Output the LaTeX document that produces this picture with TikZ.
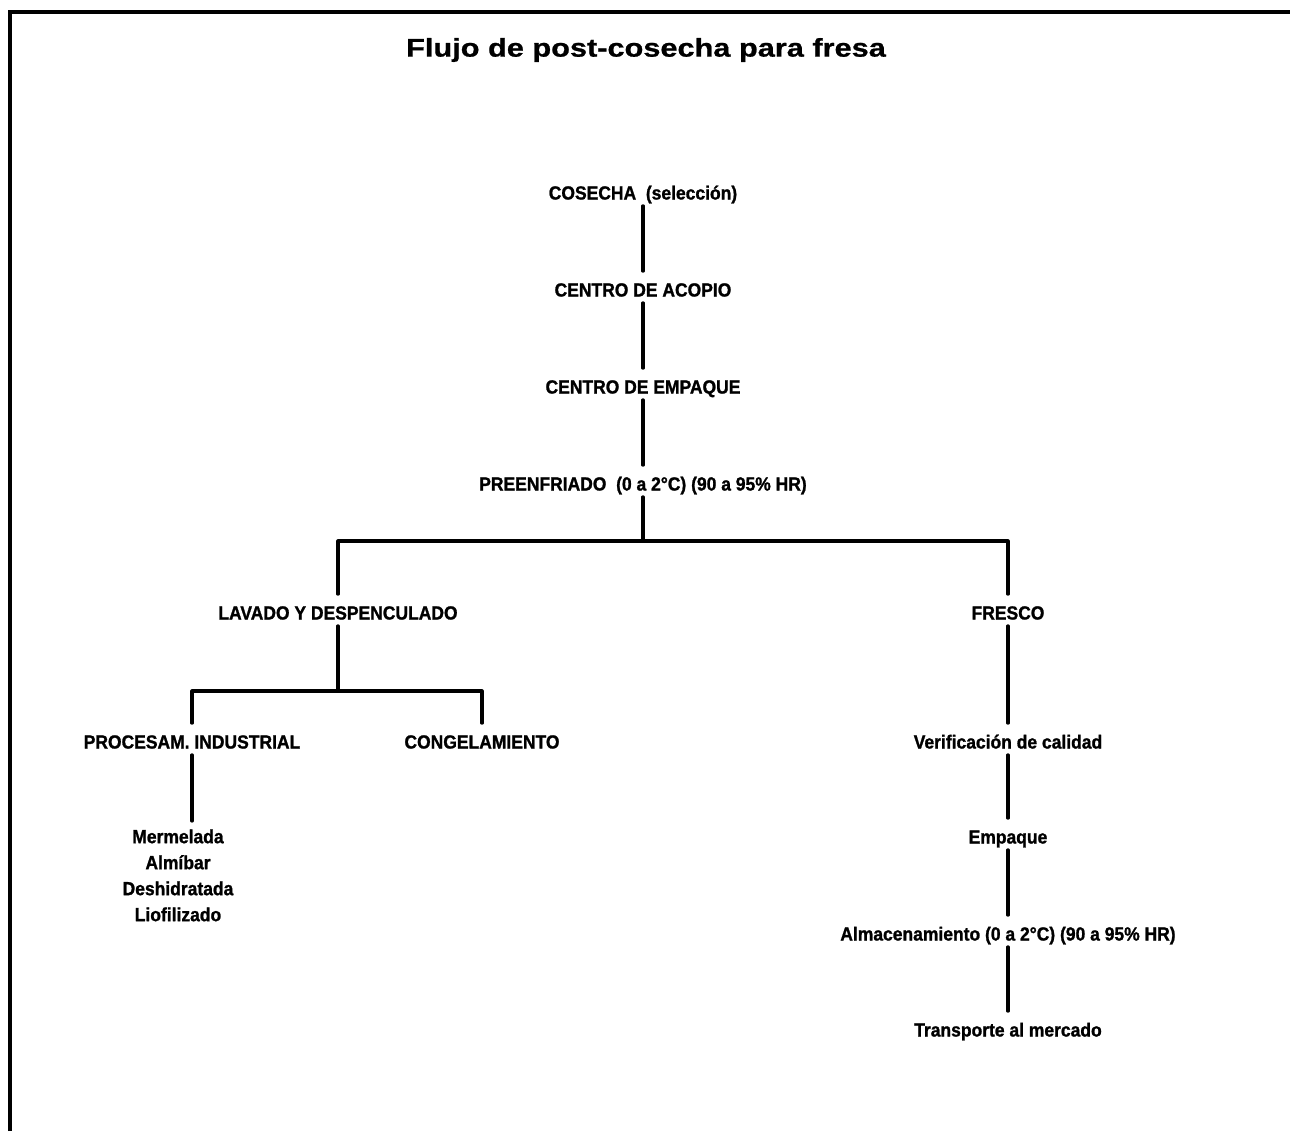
\documentclass[tikz,border=0pt]{standalone}
\usepackage{fontspec}
\setmainfont{Liberation Sans}
\newfontfamily\flowfont[FakeStretch=0.92, BoldFeatures={FakeBold=1.2}]{Liberation Sans}
\newfontfamily\titlefont[FakeStretch=1.2, BoldFeatures={FakeBold=0.8}]{Liberation Sans}
\usetikzlibrary{calc,positioning}

\begin{document}
\begin{tikzpicture}[
      x=0.5pt, y=-0.5pt,
      every node/.style={font=\flowfont\bfseries\fontsize{9.5}{13}\selectfont, text=black},
      stage/.style={inner sep=0pt, text height=7.5pt, text depth=0pt},
      heading/.style={font=\titlefont\bfseries\fontsize{12.8}{15}\selectfont},
      wire/.style={line width=1.6pt, line join=round, line cap=round},
      link/.style={wire, shorten <=3pt, shorten >=5pt},
      frame/.style={line width=1.6pt}
    ]
      \useasboundingbox (0,0) rectangle (1290,1131);
      \draw[frame] (10,1131) -- (10,12) -- (1290,12);

      \node[heading] (title) at (646,50) {Flujo de post-cosecha para fresa};

      % tronco comun
      \node[stage] (cos) at (643,192) {COSECHA\ \ (selección)};
      \node[stage] (aco) at (643,289) {CENTRO DE ACOPIO};
      \node[stage] (emp) at (643,386) {CENTRO DE EMPAQUE};
      \node[stage] (pre) at (643,483) {PREENFRIADO\ \ (0 a 2°C) (90 a 95\% HR)};

      % ramas
      \node[stage] (lav) at (338,612) {LAVADO Y DESPENCULADO};
      \node[stage] (fre) at (1008,612) {FRESCO};
      \node[stage] (proc) at (192,741) {PROCESAM. INDUSTRIAL};
      \node[stage] (cong) at (482,741) {CONGELAMIENTO};
      \node[anchor=north, align=center, inner sep=0pt] (prod) at (178,829)
        {Mermelada\\Almíbar\\Deshidratada\\Liofilizado};
      \node[stage] (ver) at (1008,741) {Verificación de calidad};
      \node[stage] (emq) at (1008,836) {Empaque};
      \node[stage] (alm) at (1008,933) {Almacenamiento (0 a 2°C) (90 a 95\% HR)};
      \node[stage] (tra) at (1008,1029) {Transporte al mercado};

      \coordinate (bar1) at (643,541);
      \coordinate (bar2) at (338,691);

      \draw[link] (cos) -- (aco);
      \draw[link] (aco) -- (emp);
      \draw[link] (emp) -- (pre);
      \draw[wire, shorten <=3pt] (pre.south) -- (bar1);
      \draw[wire, shorten <=5pt, shorten >=5pt]
        (lav.north) -- (lav.north |- bar1) -- (fre.north |- bar1) -- (fre.north);
      \draw[wire, shorten <=3pt] (lav.south) -- (bar2);
      \draw[wire, shorten <=5pt, shorten >=5pt]
        (proc.north) -- (proc.north |- bar2) -- (cong.north |- bar2) -- (cong.north);
      \draw[wire, shorten <=3pt, shorten >=4pt] (proc.south) -- (proc.south |- prod.north);
      \draw[link] (fre) -- (ver);
      \draw[link] (ver) -- (emq);
      \draw[link] (emq) -- (alm);
      \draw[link] (alm) -- (tra);
    \end{tikzpicture}
\end{document}
